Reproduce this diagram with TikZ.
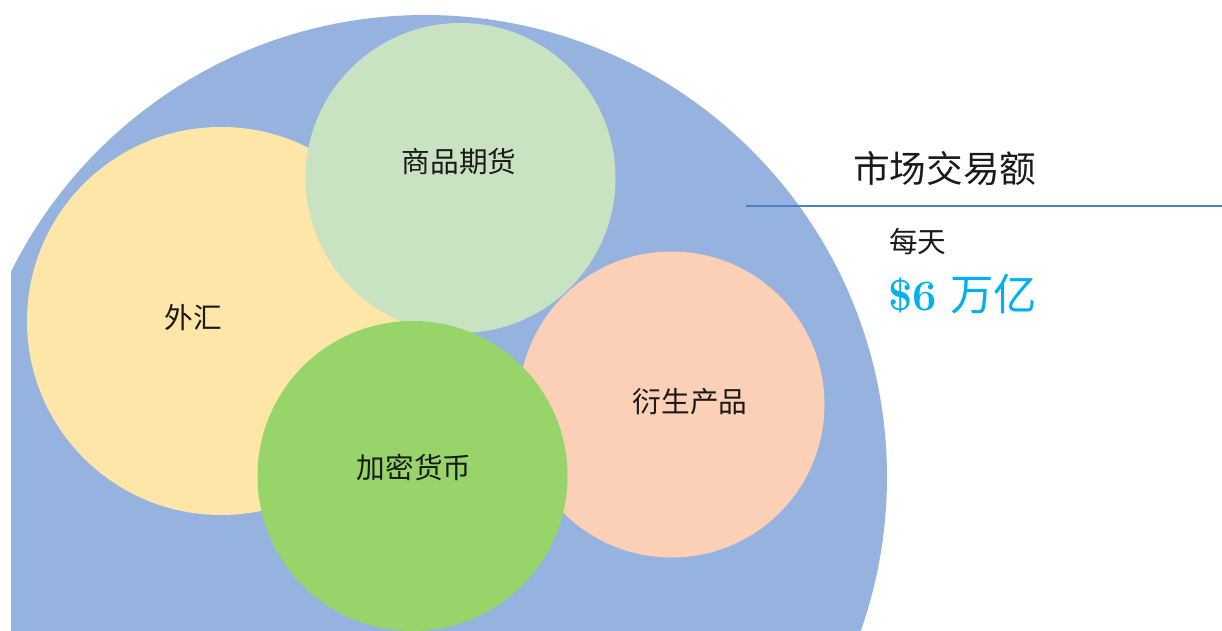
\documentclass[tikz,border=0pt]{standalone}
\usepackage{fontspec}
\newfontfamily\cjk{Noto Sans CJK SC}
\definecolor{bigblue}{HTML}{95B3DE}
\definecolor{fxyellow}{HTML}{FEE6A8}
\definecolor{cmgreen}{HTML}{C9E3C2}
\definecolor{drpeach}{HTML}{FBD0B6}
\definecolor{crgreen}{HTML}{97D56A}
\definecolor{rulecol}{HTML}{4D80C8}
\definecolor{numblue}{HTML}{00B0F0}
\definecolor{txt}{HTML}{1A1A1A}
\tikzset{
  circlabel/.style={font=\cjk\fontsize{21.5pt}{24pt}\selectfont, text=txt, inner sep=0pt},
  sidelabel/.style={anchor=west, inner sep=0pt, text=txt},
}
\begin{document}
\begin{tikzpicture}[x=0.75pt,y=-0.75pt]
\useasboundingbox (0,0) rectangle (1222,631);
\begin{scope}
  \clip (11,0) rectangle (1222,630);
  \fill[bigblue] (425,477) circle[radius=462*0.75pt];
  \fill[fxyellow] (221,321) circle[radius=194*0.75pt];
  \fill[cmgreen] (460.5,178) circle[radius=155*0.75pt];
  \fill[drpeach] (671.5,404.5) circle[radius=153*0.75pt];
  \fill[crgreen] (412.5,476) circle[radius=155*0.75pt];
\end{scope}
\node[circlabel] (fx) at (193,318) {外汇};
\node[circlabel] (cm) at (459,162) {商品期货};
\node[circlabel] (dr) at (690,402) {衍生产品};
\node[circlabel] (cr) at (414,467) {加密货币};
\coordinate (ruleA) at (746,206);
\coordinate (ruleB) at (1222,206);
\draw[rulecol, line width=1.5pt] (ruleA) -- (ruleB);
\node[sidelabel, font=\cjk\fontsize{27.5pt}{30pt}\selectfont] (title) at (853,168) {市场交易额};
\node[sidelabel, font=\cjk\fontsize{21.5pt}{24pt}\selectfont] (daily) at (889,242) {每天};
\node[sidelabel, text=numblue, font=\fontsize{32.5pt}{36pt}\selectfont] (amount) at (888,294) {\textbf{\$6} {\cjk 万亿}};
\end{tikzpicture}
\end{document}
